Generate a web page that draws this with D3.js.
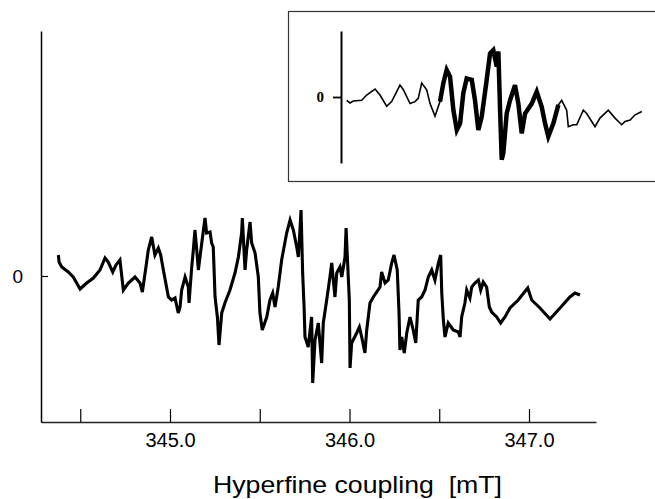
<!DOCTYPE html>
<html>
<head>
<meta charset="utf-8">
<script src="https://cdn.jsdelivr.net/npm/d3@7"></script>
<style>
  body { margin: 0; background: #fff; }
  svg { display: block; }
</style>
</head>
<body>
<div id="wrapper"></div>
<script>
// field positions (mT) and signal (arb. units)
const mainField = [
  344.378, 344.382, 344.397, 344.433, 344.461, 344.499, 344.536, 344.573, 344.610, 344.638,
  344.656, 344.681, 344.699, 344.721, 344.740, 344.768, 344.805, 344.833, 344.846, 344.866,
  344.879, 344.898, 344.916, 344.935, 344.948, 344.963, 344.991, 345.009, 345.028, 345.046,
  345.056, 345.065, 345.084, 345.102, 345.106, 345.121, 345.130, 345.139, 345.149, 345.158,
  345.177, 345.195, 345.204, 345.223, 345.232, 345.241, 345.251, 345.264, 345.273, 345.288,
  345.306, 345.334, 345.362, 345.381, 345.399, 345.403, 345.418, 345.427, 345.446, 345.455,
  345.474, 345.492, 345.501, 345.514, 345.539, 345.557, 345.572, 345.585, 345.603, 345.622,
  345.650, 345.669, 345.687, 345.706, 345.715, 345.724, 345.730, 345.739, 345.747, 345.752,
  345.770, 345.789, 345.795, 345.808, 345.826, 345.845, 345.854, 345.873, 345.891, 345.901,
  345.919, 345.929, 345.947, 345.957, 345.975, 345.981, 345.988, 345.999, 346.003, 346.012,
  346.040, 346.055, 346.068, 346.086, 346.096, 346.114, 346.133, 346.170, 346.179, 346.198,
  346.216, 346.235, 346.248, 346.266, 346.276, 346.281, 346.291, 346.305, 346.319, 346.337,
  346.355, 346.369, 346.383, 346.402, 346.421, 346.439, 346.458, 346.476, 346.495, 346.508,
  346.514, 346.523, 346.532, 346.550, 346.578, 346.606, 346.616, 346.625, 346.643, 346.653,
  346.671, 346.681, 346.699, 346.718, 346.731, 346.745, 346.764, 346.779, 346.792, 346.820,
  346.842, 346.866, 346.894, 346.940, 346.993, 347.015, 347.061, 347.117, 347.173, 347.228,
  347.256, 347.284
];
const mainSignal = [
  0.21, 0.14, 0.09, 0.04, -0.01, -0.13, -0.07, -0.02, 0.06, 0.18,
  0.14, 0.04, 0.11, 0.16, -0.14, -0.07, -0.01, -0.07, -0.16, 0.09,
  0.26, 0.39, 0.21, 0.28, 0.21, 0.06, -0.21, -0.24, -0.22, -0.37,
  -0.31, -0.14, -0.01, -0.11, -0.27, 0.09, 0.26, 0.46, 0.26, 0.06,
  0.33, 0.58, 0.43, 0.44, 0.33, 0.29, -0.21, -0.41, -0.69, -0.37,
  -0.27, -0.14, 0.03, 0.19, 0.43, 0.58, 0.06, 0.26, 0.54, 0.33,
  0.23, -0.01, -0.37, -0.54, -0.41, -0.24, -0.17, -0.31, -0.11, 0.16,
  0.43, 0.56, 0.46, 0.29, 0.19, 0.46, 0.66, 0.03, -0.31, -0.61,
  -0.71, -0.41, -1.07, -0.64, -0.47, -0.87, -0.47, -0.24, -0.01, 0.13,
  -0.21, 0.03, 0.09, -0.01, 0.19, 0.48, 0.19, -0.24, -0.92, -0.67,
  -0.57, -0.51, -0.61, -0.77, -0.54, -0.27, -0.21, -0.11, 0.04, -0.07,
  -0.04, 0.13, 0.21, 0.06, -0.37, -0.74, -0.61, -0.77, -0.57, -0.41,
  -0.54, -0.67, -0.24, -0.21, -0.14, -0.01, 0.06, -0.04, 0.13, 0.21,
  -0.17, -0.44, -0.61, -0.47, -0.54, -0.56, -0.61, -0.41, -0.27, -0.14,
  -0.22, -0.11, -0.07, -0.04, -0.14, -0.06, -0.11, -0.31, -0.36, -0.41,
  -0.47, -0.41, -0.32, -0.24, -0.12, -0.24, -0.32, -0.43, -0.32, -0.21,
  -0.17, -0.19
];

// inset spectrum
const insetField = [
  344.375, 344.408, 344.440, 344.523, 344.572, 344.654, 344.703, 344.769, 344.818, 344.900,
  344.933, 344.999, 345.048, 345.080, 345.114, 345.163, 345.196, 345.245, 345.294, 345.327,
  345.360, 345.393, 345.426, 345.460, 345.492, 345.524, 345.557, 345.607, 345.639, 345.672,
  345.705, 345.754, 345.787, 345.819, 345.853, 345.869, 345.885, 345.902, 345.918, 345.951,
  345.984, 346.033, 346.066, 346.099, 346.132, 346.198, 346.247, 346.296, 346.329, 346.361,
  346.411, 346.460, 346.493, 346.509, 346.542, 346.558, 346.607, 346.641, 346.706, 346.739,
  346.821, 346.870, 346.952, 347.018, 347.084, 347.117, 347.167, 347.216, 347.282
];
const insetSignal = [
  -0.05, -0.09, -0.06, -0.05, 0.03, 0.12, 0.03, -0.14, -0.07, 0.18,
  0.11, -0.10, -0.07, -0.02, 0.21, 0.11, -0.10, -0.29, -0.07, 0.21,
  0.41, 0.31, -0.20, -0.50, -0.40, 0.06, 0.28, 0.26, -0.05, -0.50,
  -0.30, 0.26, 0.66, 0.71, 0.46, 0.69, -0.15, -0.95, -0.85, -0.25,
  -0.05, 0.18, -0.10, -0.55, -0.25, -0.10, 0.08, -0.15, -0.40, -0.60,
  -0.40, -0.12, -0.05, -0.10, -0.20, -0.45, -0.42, -0.42, -0.20, -0.25,
  -0.45, -0.32, -0.20, -0.32, -0.42, -0.37, -0.35, -0.27, -0.22
];

const xTickValues = [344.5, 345.0, 345.5, 346.0, 346.5, 347.0];
const xTickLabels = ["", "345.0", "", "346.0", "", "347.0"];
const xLabel = "Hyperfine coupling  [mT]";

const mainData = mainField.map((f, i) => ({ field: f, signal: mainSignal[i] }));
const insetData = insetField.map((f, i) => ({ field: f, signal: insetSignal[i] }));

const width = 655;
const height = 499;
const sans = "'Liberation Sans', Arial, Helvetica, sans-serif";

const svg = d3.select("#wrapper")
  .append("svg")
  .attr("width", width)
  .attr("height", height);

// main panel
const xScale = d3.scaleLinear()
  .domain([344.2813, 347.3733])
  .range([41, 596]);

const yScale = d3.scaleLinear()
  .domain([-1.46, 2.45])
  .range([422, 31]);

const xAxisGenerator = d3.axisBottom(xScale)
  .tickValues(xTickValues)
  .tickFormat((d, i) => xTickLabels[i])
  .tickSizeInner(-13)
  .tickSizeOuter(0)
  .tickPadding(11);

const yAxisGenerator = d3.axisLeft(yScale)
  .tickValues([0])
  .tickFormat(() => "0")
  .tickSizeInner(-7)
  .tickSizeOuter(0)
  .tickPadding(18);

const xAxis = svg.append("g")
  .attr("transform", `translate(0, ${yScale.range()[0]})`)
  .call(xAxisGenerator);

xAxis.select(".domain").attr("stroke", "#222").attr("stroke-width", 1.5);
xAxis.selectAll(".tick line").attr("stroke", "#000").attr("stroke-width", 1.2);
xAxis.selectAll(".tick text")
  .attr("fill", "#000")
  .style("font-family", sans)
  .style("font-size", "20px");

const yAxis = svg.append("g")
  .attr("transform", `translate(${xScale.range()[0]}, 0)`)
  .call(yAxisGenerator);

yAxis.select(".domain").attr("stroke", "#000").attr("stroke-width", 1.5);
yAxis.selectAll(".tick line").attr("stroke", "#000").attr("stroke-width", 1.2);
yAxis.selectAll(".tick text")
  .attr("fill", "#000")
  .style("font-family", sans)
  .style("font-size", "19px");

svg.append("text")
  .attr("x", 213)
  .attr("y", 493)
  .attr("textLength", 289)
  .attr("lengthAdjust", "spacingAndGlyphs")
  .attr("fill", "#000")
  .style("font-family", sans)
  .style("font-size", "24px")
  .style("white-space", "pre")
  .text(xLabel);

const mainLine = d3.line()
  .x(d => xScale(d.field))
  .y(d => yScale(d.signal));

svg.append("path")
  .datum(mainData)
  .attr("d", mainLine)
  .attr("fill", "none")
  .attr("stroke", "#000")
  .attr("stroke-width", 3.1);

// inset panel
svg.append("rect")
  .attr("x", 288.5)
  .attr("y", 11.5)
  .attr("width", 380)
  .attr("height", 170)
  .attr("fill", "#fff")
  .attr("stroke", "#333")
  .attr("stroke-width", 1.2);

const insetX = d3.scaleLinear()
  .domain([344.319, 347.412])
  .range([341, 655]);

const insetY = d3.scaleLinear()
  .domain([-1, 1])
  .range([163, 31]);

const insetAxisGenerator = d3.axisLeft(insetY)
  .tickValues([0])
  .tickFormat(() => "0")
  .tickSizeInner(8)
  .tickSizeOuter(0)
  .tickPadding(9);

const insetAxis = svg.append("g")
  .attr("transform", `translate(${insetX.range()[0]}, 0)`)
  .call(insetAxisGenerator);

insetAxis.select(".domain").attr("stroke", "#000").attr("stroke-width", 2);
insetAxis.selectAll(".tick line").attr("stroke", "#000").attr("stroke-width", 1.8);
insetAxis.selectAll(".tick text")
  .attr("fill", "#000")
  .style("font-family", "'Liberation Serif', 'Times New Roman', serif")
  .style("font-weight", "bold")
  .style("font-size", "15px");

const insetLine = d3.line()
  .x(d => insetX(d.field))
  .y(d => insetY(d.signal));

svg.append("path")
  .datum(insetData)
  .attr("d", insetLine)
  .attr("fill", "none")
  .attr("stroke", "#000")
  .attr("stroke-width", 1.6);

// the dense, noisy middle of the inset trace reads as a heavier band
svg.append("path")
  .datum(insetData.filter(d => d.field > 345.28 && d.field < 346.47))
  .attr("d", insetLine)
  .attr("fill", "none")
  .attr("stroke", "#000")
  .attr("stroke-width", 4.5);
</script>
</body>
</html>
